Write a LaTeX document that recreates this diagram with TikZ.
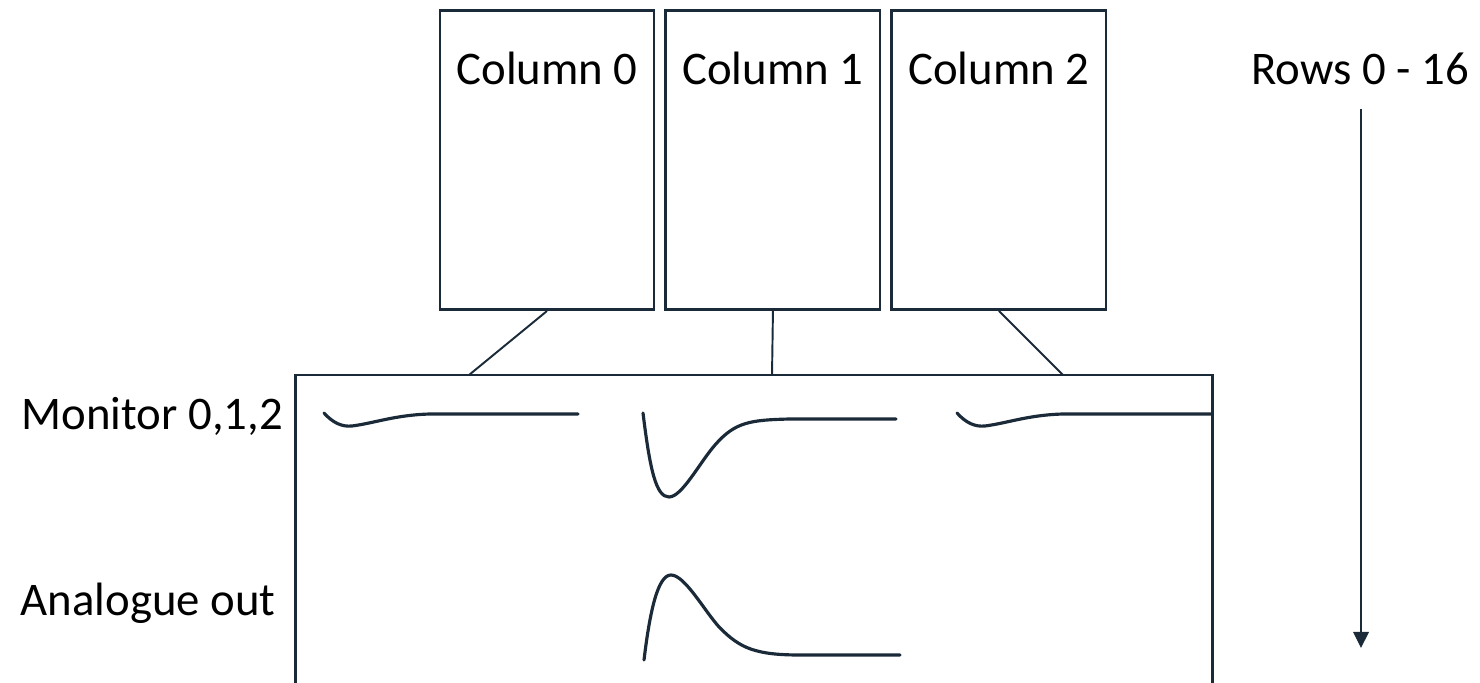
\documentclass[tikz,border=0pt]{standalone}
\usepackage{fontspec}
\setmainfont{Carlito}
\usetikzlibrary{arrows.meta,positioning}
\definecolor{linecol}{RGB}{27,42,56}

\begin{document}
\begin{tikzpicture}[x=0.01cm, y=-0.01cm,
		colbox/.style = {draw=linecol, line width=0.8pt, minimum width=2.14cm, minimum height=2.99cm, inner sep=0pt},
		lbl/.style = {font=\fontsize{13.3}{16}\selectfont, inner sep=0pt},
		link/.style = {draw=linecol, line width=0.55pt},
		frame/.style = {draw=linecol, line width=0.85pt},
		trace/.style = {draw=linecol, line width=0.9pt, line cap=round}]
	\useasboundingbox (0,0) rectangle (1480,683);

	% columns
	\node[colbox] (col0) at (547,160) {};
	\node[colbox, right=0.09cm of col0] (col1) {};
	\node[colbox, right=0.09cm of col1] (col2) {};
	\foreach \c in {0,1,2}
		\node[lbl, anchor=base] (lab\c) at ([yshift=-0.75cm]col\c.north) {Column \c};

	% readout block
	\draw[frame] (295,690) |- (1212,375) -- (1212,690);
	\coordinate (tap0) at (469,375);
	\coordinate (tap1) at (772,375);
	\coordinate (tap2) at (1063,375);
	\foreach \c in {0,1,2}
		\draw[link] (col\c.south) -- (tap\c);

	\node[lbl, anchor=base west] (mon) at (21,430) {Monitor 0,1,2};
	\node[lbl, anchor=base west] (ana) at (20,615) {Analogue out};

	% monitor traces
	\foreach \xs in {0,633}
		\draw[trace, shift={(\xs,0)}] (324,413) .. controls (333,423) and (342,427) .. (352,426)
			.. controls (375,423) and (395,415) .. (430,414) -- (578,414);
	\draw[trace] (643,413) .. controls (650,470) and (656,497) .. (669,497)
		.. controls (682,497) and (700,462) .. (715,445)
		.. controls (735,422) and (750,420) .. (790,419) -- (896,419);

	% analogue output
	\draw[trace] (644,660) .. controls (650,610) and (658,575) .. (671,575)
		.. controls (685,575) and (705,612) .. (720,628)
		.. controls (740,648) and (755,655) .. (800,655) -- (900,655);

	% rows
	\node[lbl, anchor=base] (rows) at (1360,85) {Rows 0 - 16};
	\coordinate (rowtop) at (1361,109);
	\coordinate (rowbot) at (1361,648);
	\draw[link, line width=0.7pt, -{Triangle[length=4.6pt, width=4.4pt]}] (rowtop) -- (rowbot);
\end{tikzpicture}
\end{document}
